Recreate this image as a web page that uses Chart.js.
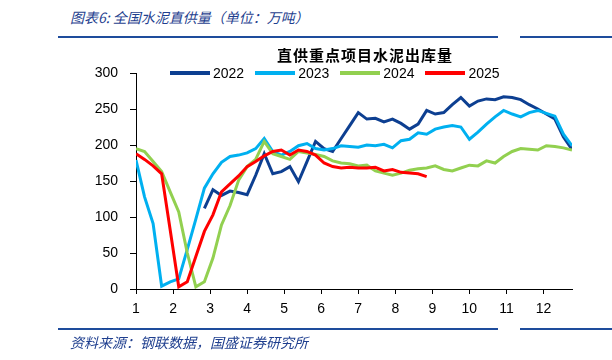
<!DOCTYPE html>
<html>
<head>
<meta charset="utf-8">
<script src="https://cdn.jsdelivr.net/npm/chart.js"></script>
<style>
  body { margin: 0; background: #fff; }
  #page { position: relative; width: 612px; height: 360px; overflow: hidden; background: #fff; }
  #js--grafiek { position: absolute; left: 0; top: 0; }
  .note { position: absolute; left: 70px; font-family: "Noto Sans CJK SC", sans-serif; font-style: italic;
          font-size: 14px; line-height: 18px; color: #1f3f8f; white-space: nowrap; }
  .rule { position: absolute; height: 2px; background: #1e4c9c; }
  #ctitle { position: absolute; left: 215px; width: 300px; top: 45px; line-height: 20px; text-align: center;
            font-family: "Noto Sans CJK SC", sans-serif; font-weight: bold; font-size: 15px; letter-spacing: 1px; color: #000; }
  #legend { position: absolute; left: 170px; top: 64px; height: 18px; display: flex; align-items: center;
            font-family: "Liberation Sans", Arial, sans-serif; font-size: 14px; color: #000; }
  #legend span.bar { display: inline-block; width: 40px; height: 4px; margin-right: 3px; }
  #legend span.txt { margin-right: 11px; }
</style>
</head>
<body>
<div id="page">
  <div class="note" style="top:8px">图表6: 全国水泥直供量（单位：万吨）</div>
  <div class="rule" style="top:36px;left:58px;width:440px"></div>
  <div class="rule" style="top:36px;left:520px;width:92px"></div>
  <canvas id="js--grafiek" width="612" height="360"></canvas>
  <div id="ctitle">直供重点项目水泥出库量</div>
  <div id="legend"></div>
  <div class="rule" style="top:328px;left:58px;width:440px"></div>
  <div class="rule" style="top:328px;left:520px;width:92px"></div>
  <div class="note" style="top:333px">资料来源：钢联数据，国盛证券研究所</div>
</div>
<script>
// weekly readings, 52 weeks per year (null = no reading)
const years = ['2022', '2023', '2024', '2025'];
const colors = ['#0d3f91', '#00b0f0', '#92d050', '#ff0000'];

const v2022 = [null, null, null, null, null, null, null, null,
  112, 138, 130, 136, 134, 131, 158, 188, 160, 163, 170, 149, 177, 205, 195, 191,
  209, 227, 245, 236, 237, 232, 236, 230, 222, 229, 248, 243, 245, 256, 266, 254,
  261, 264, 263, 267, 266, 263, 256, 250, 243, 236, 211, 194];
const v2023 = [179, 128, 91, 4, 10, 14, 55, 97, 140, 160, 176, 184, 186, 189, 195, 209,
  191, 186, 191, 199, 202, 195, 193, 195, 199, 198, 197, 200, 199, 201, 196, 206,
  208, 217, 215, 222, 225, 227, 225, 208, 218, 229, 239, 248, 243, 239, 245, 248,
  244, 240, 215, 199];
const v2024 = [195, 191, 177, 163, 135, 107, 50, 3, 10, 43, 89, 116, 151, 170, 180, 205,
  188, 184, 180, 191, 189, 187, 184, 178, 175, 174, 171, 172, 164, 161, 158, 161,
  165, 167, 168, 171, 166, 164, 168, 172, 171, 178, 175, 184, 191, 195, 194, 193,
  199, 198, 196, 193];
const v2025 = [188, 180, 171, 160, 82, 3, 10, 45, 80, 103, 135, 146, 157, 170, 177, 185,
  191, 193, 186, 193, 191, 186, 175, 170, 168, 169, 168, 168, 169, 164, 166, 162,
  161, 160, 156];

const monthTicks = [1, 2, 3, 4, 5, 6, 7, 8, 9, 10, 11, 12];
const yTicks = [0, 50, 100, 150, 200, 250, 300];

const weekStep = 0.2308; // one week in month units
const series = [v2022, v2023, v2024, v2025];

function toPoints(values) {
  return values.map((v, i) => ({ x: 1 + i * weekStep, y: v }));
}

Chart.defaults.font.family = '"Liberation Sans", Arial, sans-serif';
Chart.defaults.font.size = 14;
Chart.defaults.color = '#000';

const datasets = years.map((y, k) => ({
  label: y,
  data: toPoints(series[k]),
  borderColor: colors[k],
  backgroundColor: colors[k],
  borderWidth: 3,
  pointRadius: 0,
  tension: 0,
  order: 4 - k
}));

const config = {
  type: 'line',
  data: { datasets: datasets },
  options: {
    responsive: false,
    animation: false,
    devicePixelRatio: 1,
    layout: { padding: { left: 60, right: 40, top: 73, bottom: 41 } },
    plugins: { legend: { display: false }, tooltip: { enabled: false } },
    scales: {
      x: {
        type: 'linear',
        min: 1,
        max: 1 + 51 * weekStep,
        afterBuildTicks: s => { s.ticks = monthTicks.map(v => ({ value: v })); },
        afterFit: s => { s.height = 30; },
        grid: { drawOnChartArea: false, drawTicks: true, tickLength: 5, color: '#000' },
        border: { display: true, color: '#000', width: 1 },
        ticks: { padding: 7, maxRotation: 0, autoSkip: false }
      },
      y: {
        min: 0,
        max: 300,
        afterBuildTicks: s => { s.ticks = yTicks.map(v => ({ value: v })); },
        afterFit: s => { s.width = 76; },
        grid: { drawOnChartArea: false, drawTicks: true, tickLength: 6, color: '#000' },
        border: { display: true, color: '#000', width: 1 },
        ticks: { padding: 12 }
      }
    }
  }
};

const chart1 = new Chart(document.getElementById('js--grafiek'), config);

// legend as html, taken from the datasets
const legend = document.getElementById('legend');
chart1.data.datasets.forEach(ds => {
  const bar = document.createElement('span');
  bar.className = 'bar';
  bar.style.background = ds.borderColor;
  const txt = document.createElement('span');
  txt.className = 'txt';
  txt.textContent = ds.label;
  legend.appendChild(bar);
  legend.appendChild(txt);
});
</script>
</body>
</html>
